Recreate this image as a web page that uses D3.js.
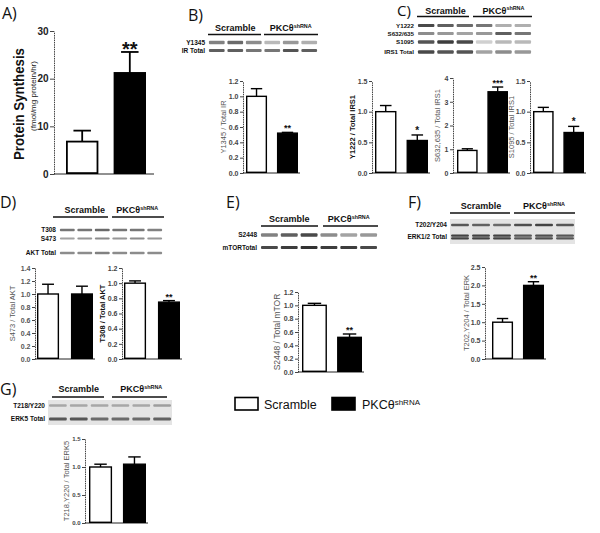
<!DOCTYPE html>
<html>
<head>
<meta charset="utf-8">
<script src="https://cdn.jsdelivr.net/npm/d3@7"></script>
<style>
  body { margin: 0; background: #fff; }
  svg { display: block; font-family: "Liberation Sans", Arial, sans-serif; }
</style>
</head>
<body>
<script>
// groups shared by every panel
const groups = ["Scramble", "PKCθshRNA"];

// bar values (mean, error)
const synthMean = [6.8, 21.2], synthErr = [2.3, 4.4];
const y1345Mean = [1.0, 0.52], y1345Err = [0.1, 0.01];
const y1222Mean = [1.0, 0.53], y1222Err = [0.1, 0.09];
const s632Mean = [0.95, 3.42], s632Err = [0.07, 0.2];
const s1095Mean = [1.0, 0.66], s1095Err = [0.07, 0.1];
const s473Mean = [1.0, 1.0], s473Err = [0.15, 0.12];
const t308Mean = [1.0, 0.75], t308Err = [0.03, 0.02];
const s2448Mean = [1.0, 0.52], s2448Err = [0.03, 0.05];
const t202Mean = [1.0, 2.0], t202Err = [0.1, 0.1];
const t218Mean = [1.0, 1.05], t218Err = [0.05, 0.13];

// tick values
const ticksSynth = [0, 10, 20, 30];
const ticks12 = [0, 0.2, 0.4, 0.6, 0.8, 1.0, 1.2];
const ticks14 = [0, 0.2, 0.4, 0.6, 0.8, 1.0, 1.2, 1.4];
const ticks15 = [0, 0.5, 1.0, 1.5];
const ticks4 = [0, 1, 2, 3, 4];
const ticks25 = [0, 0.5, 1.0, 1.5, 2.0, 2.5];

// western blot band intensities, 6 lanes (3 scramble, 3 shRNA)
const bandY1345 = [0.55, 0.65, 0.5, 0.3, 0.45, 0.35];
const bandIR = [0.7, 0.7, 0.6, 0.6, 0.75, 0.7];
const bandY1222 = [0.8, 0.7, 0.65, 0.6, 0.35, 0.35];
const bandS632 = [0.5, 0.45, 0.4, 0.45, 0.7, 0.6];
const bandS1095 = [0.75, 0.85, 0.8, 0.2, 0.3, 0.3];
const bandIRS1 = [0.8, 0.75, 0.75, 0.4, 0.5, 0.45];
const bandT308 = [0.6, 0.6, 0.65, 0.6, 0.6, 0.55];
const bandS473 = [0.4, 0.45, 0.5, 0.45, 0.5, 0.45];
const bandAKT = [0.5, 0.5, 0.55, 0.5, 0.5, 0.5];
const bandS2448 = [0.55, 0.7, 0.8, 0.5, 0.4, 0.45];
const bandMTOR = [0.8, 0.85, 0.9, 0.85, 0.85, 0.8];
const bandT202 = [0.7, 0.65, 0.6, 0.75, 0.8, 0.7];
const bandERK12 = [0.8, 0.8, 0.8, 0.7, 0.75, 0.7];
const bandT218 = [0.3, 0.3, 0.3, 0.3, 0.3, 0.35];
const bandERK5 = [0.7, 0.7, 0.6, 0.6, 0.6, 0.65];

const svg = d3.select("body").append("svg")
  .attr("width", 600).attr("height", 533);

svg.append("rect").attr("width", 600).attr("height", 533).attr("fill", "#fff");

const defs = svg.append("defs");
defs.append("filter").attr("id", "blur")
  .attr("x", "-20%").attr("y", "-50%").attr("width", "140%").attr("height", "200%")
  .append("feGaussianBlur").attr("stdDeviation", 0.7);

// panel letters
const letters = [["A)", 2, 19], ["B)", 188, 21], ["C)", 397, 16], ["D)", 0, 208],
  ["E)", 226, 208], ["F)", 408, 208], ["G)", 0, 395]];
svg.selectAll(".letter").data(letters).enter().append("text")
  .attr("x", d => d[1]).attr("y", d => d[2])
  .attr("font-family", "'Open Sans', 'Noto Sans', sans-serif")
  .attr("font-size", d => d[0] === "C)" ? 15 : 16).attr("fill", "#111")
  .text(d => d[0]);

function barChart(c) {
  const g = svg.append("g");
  const y = d3.scaleLinear().domain([0, c.max]).range([c.y0, c.yTop]);
  const x = d3.scaleBand().domain(groups).range(c.bars).paddingInner(c.pad);

  const ax = g.append("g")
    .attr("transform", `translate(${c.ax},0)`)
    .call(d3.axisLeft(y).tickValues(c.ticks).tickFormat(c.fmt)
      .tickSize(c.tickLen || 3).tickSizeOuter(0).tickPadding(1.5));
  ax.select(".domain").attr("stroke", "#444").attr("stroke-dasharray", "1.5,0.8").attr("stroke-width", 1);
  ax.selectAll(".tick line").attr("stroke", "#444");
  ax.selectAll(".tick text")
    .attr("font-size", c.tickFont || 7).attr("font-weight", "bold")
    .attr("fill", c.tickColor || "#444").attr("font-family", "'Liberation Sans', Arial, sans-serif");

  g.append("line")
    .attr("x1", c.ax).attr("x2", c.xEnd).attr("y1", c.y0).attr("y2", c.y0)
    .attr("stroke", "#222").attr("stroke-width", 1);

  const data = groups.map((k, i) => ({ k, i, m: c.mean[i], e: c.err[i] }));
  const bw = x.bandwidth();
  const sw = c.stroke || 1.4;

  // error bars first so the bar covers the lower part
  data.forEach(d => {
    const cx = x(d.k) + bw / 2;
    g.append("line").attr("x1", cx).attr("x2", cx)
      .attr("y1", y(d.m)).attr("y2", y(d.m + d.e))
      .attr("stroke", "#000").attr("stroke-width", sw);
    g.append("line").attr("x1", cx - bw * 0.27).attr("x2", cx + bw * 0.27)
      .attr("y1", y(d.m + d.e)).attr("y2", y(d.m + d.e))
      .attr("stroke", "#000").attr("stroke-width", sw);
  });

  g.selectAll(".bar").data(data).enter().append("rect")
    .attr("x", d => x(d.k) + sw / 2)
    .attr("y", d => y(d.m))
    .attr("width", bw - sw)
    .attr("height", d => c.y0 - y(d.m) - sw / 2)
    .attr("fill", d => d.i === 0 ? "#fff" : "#000")
    .attr("stroke", "#000").attr("stroke-width", sw);

  if (c.sig) {
    const d = data[1];
    g.append("text")
      .attr("x", x(d.k) + bw / 2).attr("y", y(d.m + d.e) - (c.sigGap || 1))
      .attr("text-anchor", "middle").attr("font-weight", "bold")
      .attr("font-size", c.sigFont || 10).attr("fill", "#111")
      .text(c.sig);
  }

  if (c.label) {
    const lx = c.ax - (c.labelOff || 20), ly = (c.y0 + c.yTop) / 2;
    g.append("text")
      .attr("transform", `translate(${lx},${ly}) rotate(-90)`)
      .attr("text-anchor", "middle").attr("dy", "0.35em")
      .attr("font-size", c.labelFont || 7.5)
      .attr("font-weight", c.labelBold ? "bold" : "normal")
      .attr("fill", c.labelBold ? "#111" : "#555")
      .text(c.label);
  }
  return g;
}

function blot(c) {
  const g = svg.append("g");
  const lanes = d3.range(6);
  const x = d3.scaleBand().domain(lanes).range([c.x0, c.x1]).paddingInner(0.15).paddingOuter(0.05);

  if (c.bg) {
    g.append("rect").attr("x", c.x0).attr("y", c.bgY[0])
      .attr("width", c.x1 - c.x0).attr("height", c.bgY[1] - c.bgY[0])
      .attr("fill", c.bg).attr("filter", "url(#blur)");
  }

  // header: group names with underline
  const mid1 = (x(0) + x(2) + x.bandwidth()) / 2;
  const mid2 = (x(3) + x(5) + x.bandwidth()) / 2;
  const hs = c.headFont || 9;
  g.append("text").attr("x", mid1).attr("y", c.headY).attr("text-anchor", "middle")
    .attr("font-weight", "bold").attr("font-size", hs).attr("fill", "#111").text("Scramble");
  const t = g.append("text").attr("x", mid2).attr("y", c.headY).attr("text-anchor", "middle")
    .attr("font-weight", "bold").attr("font-size", hs).attr("fill", "#111");
  t.append("tspan").text("PKCθ");
  t.append("tspan").attr("font-size", hs * 0.6).attr("dy", -hs * 0.35).text("shRNA");
  const ul = c.ul;
  g.append("line").attr("x1", ul[0]).attr("x2", ul[1]).attr("y1", c.lineY).attr("y2", c.lineY)
    .attr("stroke", "#111").attr("stroke-width", 1.6);
  g.append("line").attr("x1", ul[2]).attr("x2", ul[3]).attr("y1", c.lineY).attr("y2", c.lineY)
    .attr("stroke", "#111").attr("stroke-width", 1.6);

  c.rows.forEach(r => {
    g.append("text").attr("x", c.x0 - 3).attr("y", r.y).attr("dy", "0.35em")
      .attr("text-anchor", "end").attr("font-weight", "bold")
      .attr("font-size", c.rowFont || 6.5).attr("fill", "#111").text(r.label);
    (r.double ? [-1.3, 1.3] : [0]).forEach(off => {
      g.selectAll(null).data(r.vals).enter().append("rect")
        .attr("x", (d, i) => x(i))
        .attr("y", r.y + off - r.h / 2)
        .attr("width", x.bandwidth())
        .attr("height", r.h)
        .attr("rx", 1)
        .attr("fill", "#1a1a1a")
        .attr("opacity", d => d)
        .attr("filter", "url(#blur)");
    });
  });
}

const fmt1 = d3.format(".1f");
const fmt0 = d3.format("d");

// ---------- A ----------
barChart({ ax: 54, y0: 174, yTop: 31, max: 30, ticks: ticksSynth, fmt: fmt0,
  bars: [66, 146], pad: 0.32, xEnd: 154, mean: synthMean, err: synthErr,
  sig: "**", sigFont: 20, sigGap: -4, tickFont: 10, tickColor: "#222", tickLen: 4, stroke: 1.8 });
svg.append("text")
  .attr("transform", "translate(19,104) rotate(-90)")
  .attr("text-anchor", "middle").attr("dy", "0.35em")
  .attr("font-weight", "bold").attr("font-size", 15).attr("fill", "#111")
  .attr("textLength", 112).attr("lengthAdjust", "spacingAndGlyphs")
  .text("Protein Synthesis");
svg.append("text")
  .attr("transform", "translate(33,96) rotate(-90)")
  .attr("text-anchor", "middle").attr("dy", "0.35em")
  .attr("font-size", 8).attr("fill", "#222")
  .text("(fmol/mg protein/hr)");

// ---------- B ----------
blot({ x0: 208, x1: 318, headY: 31, lineY: 34.5, ul: [208, 261, 264, 318],
  rows: [{ label: "Y1345", y: 42.5, h: 3.5, vals: bandY1345 },
         { label: "IR Total", y: 50.5, h: 3, vals: bandIR }] });
barChart({ ax: 243, y0: 173, yTop: 81, max: 1.2, ticks: ticks12, fmt: fmt1,
  bars: [246, 298], pad: 0.32, xEnd: 300, mean: y1345Mean, err: y1345Err,
  sig: "**", sigFont: 9, label: "Y1345 / Total IR" });

// ---------- C ----------
blot({ x0: 417, x1: 532, headY: 13.5, lineY: 16.5, ul: [417, 469, 473, 532], rowFont: 6.2,
  rows: [{ label: "Y1222", y: 25.5, h: 3, vals: bandY1222 },
         { label: "S632/635", y: 33.5, h: 3, vals: bandS632 },
         { label: "S1095", y: 42, h: 3.5, vals: bandS1095 },
         { label: "IRS1 Total", y: 52, h: 3.5, vals: bandIRS1 }] });
barChart({ ax: 372, y0: 173, yTop: 81, max: 1.5, ticks: ticks15, fmt: fmt1,
  bars: [375, 428], pad: 0.32, xEnd: 430, mean: y1222Mean, err: y1222Err,
  sig: "*", sigFont: 10, label: "Y1222 / Total IRS1", labelBold: true });
barChart({ ax: 453, y0: 173, yTop: 78, max: 4, ticks: ticks4, fmt: fmt0,
  bars: [457, 508], pad: 0.32, xEnd: 510, mean: s632Mean, err: s632Err,
  sig: "***", sigFont: 9, label: "S632,635 / Total IRS1", labelOff: 16 });
barChart({ ax: 530, y0: 173, yTop: 81, max: 1.5, ticks: ticks15, fmt: fmt1,
  bars: [533, 584], pad: 0.32, xEnd: 586, mean: s1095Mean, err: s1095Err,
  sig: "*", sigFont: 10, label: "S1095 / Total IRS1", labelOff: 19 });

// ---------- D ----------
blot({ x0: 59, x1: 163, headY: 213, lineY: 217, ul: [53, 108, 112, 164],
  rows: [{ label: "T308", y: 230, h: 2.5, vals: bandT308 },
         { label: "S473", y: 238.5, h: 2, vals: bandS473 },
         { label: "AKT Total", y: 253, h: 2.5, vals: bandAKT }] });
barChart({ ax: 35, y0: 359, yTop: 268, max: 1.4, ticks: ticks14, fmt: fmt1,
  bars: [37, 93], pad: 0.35, xEnd: 95, mean: s473Mean, err: s473Err,
  label: "S473 / Total AKT", labelOff: 23, tickFont: 7, tickColor: "#555" });
barChart({ ax: 122, y0: 359, yTop: 268, max: 1.2, ticks: ticks12, fmt: fmt1,
  bars: [124, 180], pad: 0.35, xEnd: 182, mean: t308Mean, err: t308Err,
  sig: "**", sigFont: 9, label: "T308 / Total AKT", labelBold: true, labelOff: 20 });

// ---------- E ----------
blot({ x0: 260, x1: 378, headY: 222, lineY: 226, ul: [261, 318, 323, 378],
  rows: [{ label: "S2448", y: 235, h: 3.5, vals: bandS2448 },
         { label: "mTORTotal", y: 247.5, h: 3, vals: bandMTOR }] });
barChart({ ax: 298, y0: 372, yTop: 292, max: 1.2, ticks: ticks12, fmt: fmt1,
  bars: [302, 362], pad: 0.29, xEnd: 364, mean: s2448Mean, err: s2448Err,
  sig: "**", sigFont: 9, label: "S2448 / Total mTOR", labelFont: 8.5, labelOff: 21 });

// ---------- F ----------
blot({ x0: 450, x1: 575, headY: 209, lineY: 213, ul: [450, 510, 514, 575],
  bg: "#e4e4e4", bgY: [219, 244],
  rows: [{ label: "T202/Y204", y: 225, h: 2.5, vals: bandT202 },
         { label: "ERK1/2 Total", y: 237, h: 2.2, vals: bandERK12, double: true }] });
barChart({ ax: 485, y0: 359, yTop: 267, max: 2.5, ticks: ticks25, fmt: fmt1,
  bars: [492, 544], pad: 0.32, xEnd: 546, mean: t202Mean, err: t202Err,
  sig: "**", sigFont: 9, label: "T202,Y204 / Total ERK", labelOff: 19 });

// ---------- G ----------
blot({ x0: 48, x1: 172, headY: 392, lineY: 397, ul: [52, 104, 112, 167],
  bg: "#e4e4e4", bgY: [400, 425],
  rows: [{ label: "T218/Y220", y: 405.5, h: 2.5, vals: bandT218 },
         { label: "ERK5 Total", y: 419, h: 3, vals: bandERK5 }] });
barChart({ ax: 85, y0: 523, yTop: 439, max: 1.5, ticks: ticks15, fmt: fmt1,
  bars: [89, 146], pad: 0.32, xEnd: 148, mean: t218Mean, err: t218Err,
  label: "T218,Y220 / Total ERK5", labelOff: 19, tickFont: 6 });

// ---------- legend ----------
const legend = svg.append("g");
const legX = d3.scaleOrdinal().domain(groups).range([235, 332]);
legend.selectAll("rect").data(groups).enter().append("rect")
  .attr("x", d => legX(d)).attr("y", 397.5)
  .attr("width", 23).attr("height", 12.5)
  .attr("fill", (d, i) => i === 0 ? "#fff" : "#000")
  .attr("stroke", "#000").attr("stroke-width", 1.6);
legend.append("text").attr("x", legX(groups[0]) + 29).attr("y", 409)
  .attr("font-size", 12.5).attr("fill", "#111").text("Scramble");
const lt = legend.append("text").attr("x", legX(groups[1]) + 30).attr("y", 409)
  .attr("font-size", 12.5).attr("fill", "#111");
lt.append("tspan").text("PKCθ");
lt.append("tspan").attr("font-size", 8).attr("dy", -4.5).text("shRNA");
</script>
</body>
</html>
